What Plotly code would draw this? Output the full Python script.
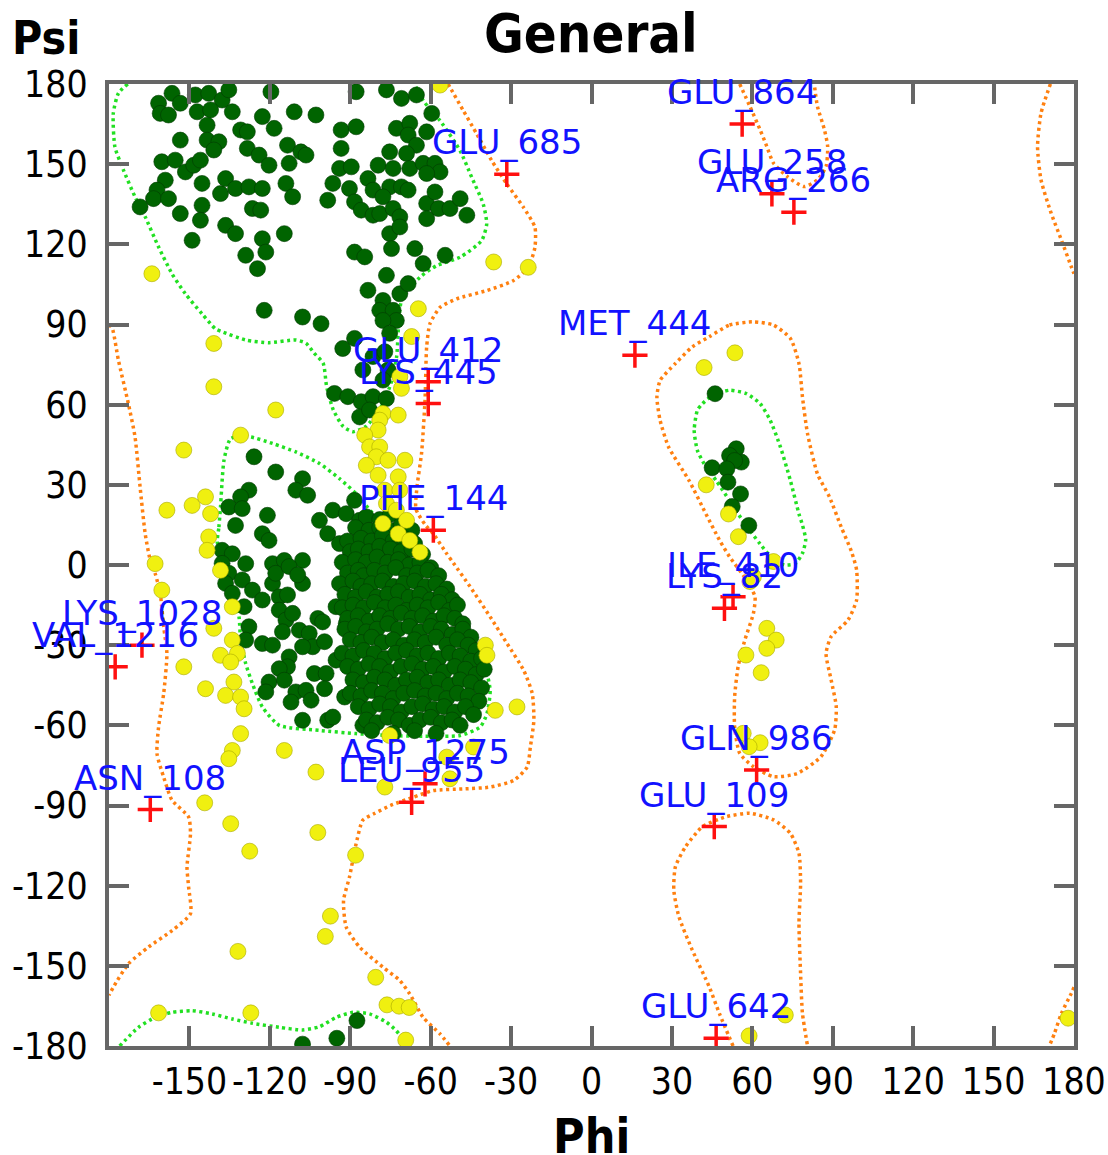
import plotly.graph_objects as go

# ---------------- data (phi, psi) ----------------
favoured = [
    # beta region
    (-156.5,176.5),(-161.5,172.8),(-160.9,169),(-157.8,168.4),(-153.4,172.8),(-147.8,175.9),(-142.8,176.5),
    (-137.8,174),(-135.3,177.8),(-147.1,169.6),(-142.1,170.3),(-134,169.6),(-119.6,177.1),(-122.8,167.8),
    (-110.9,169.6),(-102.8,168.4),(-87.8,177.1),(-76.5,177.8),(-70.9,174.6),(-65.3,175.9),(-143.4,164.6),
    (-153.4,159),(-143.4,159),(-139,158.4),(-140.9,155.3),(-130.9,162.8),(-128.4,162.1),(-118.4,163.4),
    (-128.4,155.9),(-124,153.4),(-120.3,149.6),(-113.4,157.1),(-108.4,154.6),(-106.5,153.4),(-112.8,150.3),
    (-160.3,150.9),(-155.3,151.5),(-151.5,147.1),(-148.4,149.6),(-145.9,151.5),(-159,144),(-162.1,140.3),
    (-163.4,137.1),(-157.8,137.1),(-168.4,134),(-153.4,131.5),(-145.3,142.8),(-145.3,134.6),(-145.9,129),
    (-138.4,139),(-136.5,144.6),(-132.8,140.9),(-127.8,141.5),(-122.8,140.9),(-126.5,133.4),(-123.4,132.8),
    (-114,142.8),(-111.5,137.8),(-136.5,127.1),(-132.8,124),(-149,121.5),(-122.8,122.1),(-121.5,117.1),
    (-114.6,124),(-129,115.9),(-124.6,110.9),(-93.4,162.8),(-87.8,164),(-93.4,155.9),(-94,148.4),(-89.6,149),
    (-96.5,142.8),(-90.3,140.9),(-98.4,136.5),(-88.4,135.9),(-83.4,144.6),(-85.9,132.8),(-81.5,140.3),
    (-81.5,130.9),(-79,131.5),(-79.6,149.6),(-75.3,154.6),(-72.8,163.4),(-67.8,165.3),(-61.5,162.1),
    (-59.6,169),(-68.4,160.9),(-65.3,157.1),(-74,148.4),(-69,154),(-67.8,148.4),(-62.8,150.3),(-58.4,150.3),
    (-56.5,147.1),(-61.5,146.5),(-75.3,141.5),(-70.9,141.5),(-68.4,140.3),(-77.8,137.8),(-74,133.4),
    (-71.5,130.3),(-61.5,135.3),(-58.4,139.6),(-57.1,133.4),(-52.8,133.4),(-49,137.1),(-46.5,130.9),
    (-61.5,129.6),(-75.3,124),(-71.5,126.5),(-74.6,118.4),(-65.9,118.4),(-54.6,115.9),(-62.8,112.8),
    (-88.4,117.1),(-84.6,115.3),(-76.5,108.4),(-83.4,102.8),(-71.5,101.5),(-68.4,105.3),(-77.8,99),
    (-79,95.3),(-74,95.3),(-72.8,91.5),(-77.8,91.5),(-122.1,95.3),(-107.8,92.8),(-100.9,90.3),
    # bridge / upper alpha
    (-92.8,81),(-88.4,84.8),(-85.3,73),(-81.5,78),(-77.1,79.8),(-75.3,86.7),(-75.9,73),(-77.8,69.2),
    (-95.9,64.2),(-90.9,63),(-85.9,61.1),(-81.5,63),(-76.5,62.3),(-86.5,55.4),(-82.8,58),
    (-125.9,40.5),(-117.8,34.8),(-107.8,32.3),(-110.3,28),(-105.9,26.1),(-127.8,28),(-130.9,25.5),
    (-135.3,21.7),(-130.3,21.1),(-120.9,18.6),(-132.8,14.8),(-122.8,11.7),(-120.3,9.2),(-137.8,5.5),
    (-134,4.2),(-129,0.5),(-119,0.5),(-114.6,1.7),(-107.8,1.7),(-101.5,16.7),(-96.5,20.5),(-91.5,19.2),
    (-98.4,11.7),(-94,8),(-86.5,16.7),(-85.3,11.7),(-86.5,4.2),(-81.5,9.2),(-75.3,4.2),(-70.3,1.7),
    (-62.8,-0.8),(-88.4,24.2),
    # left lobe of alpha region
    (-137.8,0.6),(-135.3,-3.1),(-136.5,-6.9),(-134,-10.6),(-130.3,-5.6),(-129.6,-15.6),(-126.5,-9.4),
    (-127.8,-23.1),(-129,-28.1),(-122.8,-29.4),(-119,-30),(-122.8,-13.1),(-119,-6.9),(-116.5,-11.9),
    (-113.4,-11.2),(-117.8,-3.1),(-112.8,-0.6),(-107.8,-6.9),(-109.6,-3.7),(-116.5,-16.9),(-114,-20.6),
    (-111.5,-18.1),(-115.3,-25),(-109,-24.4),(-105.3,-25.6),(-104,-30.6),(-99.6,-28.7),(-107.8,-30.6),
    (-112.8,-34.4),(-113.4,-38.1),(-116.5,-38.8),(-120.3,-43.8),(-121.5,-47.5),(-114.6,-43.1),
    (-110.3,-47.5),(-106.5,-46.9),(-103.4,-40.6),(-99,-40.6),(-95.3,-35.6),(-99.6,-46.3),(-112.1,-51.3),
    (-104.6,-50.6),(-107.8,-58.1),(-98.4,-58.1),(-96.5,-56.9),(-102.1,-20),(-100.3,-21.3),(-95.3,-15.6),
    (-92.1,-6.9),(-91.5,-21.9),(-92.1,-49.4),(-85.3,-60),
    # dense alpha core
    (-84,18),(-79,17),(-75,19),
    (-88,14),(-83,13),(-79,14),(-75,13),(-71,15),(-67,13),
    (-91,9),(-86,10),(-82,9),(-78,11),(-74,9),(-70,10),(-66,8),
    (-90,5),(-87,6),(-83,5),(-79,7),(-75,6),(-71,5),(-67,6),(-63,4),
    (-93,1),(-88,2),(-84,1),(-80,3),(-76,1),(-72,2),(-68,0),(-64,1),(-60,-1),
    (-91,-3),(-87,-2),(-85,-4),(-81,-2),(-77,-3),(-73,-1),(-69,-4),(-65,-3),(-61,-2),(-57,-4),
    (-94,-7),(-89,-6),(-86,-8),(-82,-7),(-78,-6),(-74,-8),(-70,-7),(-66,-6),(-62,-8),(-58,-7),(-54,-9),
    (-92,-11),(-88,-12),(-84,-10),(-80,-12),(-76,-11),(-72,-10),(-68,-12),(-64,-11),(-60,-13),(-56,-11),(-52,-13),
    (-93,-16),(-89,-15),(-85,-16),(-81,-14),(-77,-16),(-73,-15),(-69,-17),(-65,-15),(-61,-16),(-57,-14),(-53,-17),(-50,-15),
    (-91,-20),(-87,-19),(-83,-21),(-79,-19),(-75,-20),(-71,-18),(-67,-20),(-63,-19),(-59,-21),(-55,-19),(-51,-20),(-48,-22),
    (-92,-24),(-88,-23),(-84,-25),(-80,-24),(-76,-22),(-72,-24),(-68,-23),(-64,-25),(-60,-23),(-56,-24),(-52,-26),(-48,-24),(-45,-27),
    (-90,-28),(-86,-29),(-82,-27),(-78,-29),(-74,-28),(-70,-30),(-66,-28),(-62,-29),(-58,-27),(-54,-30),(-50,-28),(-46,-30),(-43,-32),
    (-93,-33),(-89,-34),(-85,-32),(-81,-33),(-77,-35),(-73,-33),(-69,-32),(-65,-34),(-61,-33),(-57,-35),(-53,-33),(-49,-34),(-45,-36),(-41,-35),
    (-91,-38),(-87,-39),(-83,-37),(-79,-38),(-75,-40),(-71,-38),(-67,-37),(-63,-39),(-59,-38),(-55,-40),(-51,-38),(-47,-39),(-43,-41),(-40,-39),
    (-89,-43),(-85,-44),(-81,-42),(-77,-43),(-73,-45),(-69,-43),(-65,-42),(-61,-44),(-57,-43),(-53,-45),(-49,-43),(-45,-44),(-41,-46),
    (-90,-48),(-86,-49),(-82,-47),(-78,-48),(-74,-50),(-70,-48),(-66,-47),(-62,-49),(-58,-48),(-54,-50),(-50,-48),(-46,-49),(-42,-51),
    (-87,-53),(-83,-54),(-79,-52),(-75,-53),(-71,-55),(-67,-53),(-63,-52),(-59,-54),(-55,-53),(-51,-55),(-47,-53),(-44,-56),
    (-84,-58),(-80,-59),(-76,-57),(-72,-58),(-68,-60),(-64,-58),(-60,-57),(-56,-59),(-52,-58),(-49,-60),
    (-82,-62),(-74,-63),(-66,-62),(-58,-63),
    # left-handed region
    (46.1,64.1),(54,43.5),(51.5,41),(55.9,38.5),(53.4,39.1),(45,36.4),(50.5,36),(50.9,31),(55.6,26.6),
    (52.5,21.9),(58.7,14.8),
    # bottom edge
    (-87.5,-170.5),(-95,-177.1),(-107.8,-179.3),
]

allowed = [
    (-164,109),(-36.5,113.4),(-64.6,95.9),(-56.5,179.6),(-23.6,111.4),
    (-140.9,82.9),(-140.9,66.7),(-117.8,58),(-152.1,43),(-130.9,48.6),(-67.1,85.5),(-71.5,70.5),
    (-70.9,66.1),(-77.8,56.7),(-72.1,56.1),(-79,54.2),(-79.6,50.5),(-84.6,48.6),(-82.8,44.2),(-79,44.2),
    (-80.3,40.5),(-75.9,39.2),(-84,37.3),(-69.6,39.2),(-79.6,33.6),(-72.1,33),(-77.1,28),(-71.5,28),
    (-76.5,23),(-72.8,20.5),(-77.8,15.5),(-69,16.7),(-72.1,11.7),(-67.8,9.2),(-64,4.8),(-158.4,20.5),
    (-149,22.3),(-144,25.5),(-142.1,19.2),(-142.8,10.5),(-143.4,5.5),(-162.8,0.5),(-138.4,-2),
    (-160.3,-9.4),(-134,-15.6),(-140.9,-23.7),(-134,-28.1),(-132.1,-33.1),(-138.4,-33.8),(-134.6,-36.3),
    (-152.1,-38.1),(-144,-46.3),(-133.4,-43.8),(-136.5,-48.8),(-130.9,-49.4),(-129.6,-53.8),(-130.9,-63.1),
    (-134,-69.4),(-135.3,-72.5),(-114.6,-69.4),(-102.8,-77.5),(-75.3,-63.8),(-77.1,-83.1),(-54,-71.9),
    (-52.8,-80),(-44,-68.1),(-35.9,-54.4),(-27.8,-53.1),(-39.6,-30),(-39,-33.8),
    (-144.3,-89),(-134.6,-96.8),(-127.5,-107.1),(-102.1,-100.1),(-88,-108.6),(-97.4,-131.4),(-99.3,-139),
    (-131.9,-144.6),(-80.5,-154.3),(-76.3,-164.6),(-71.8,-165.1),(-68,-165.6),(-161.5,-167.6),
    (-127.1,-167.6),(-69.3,-177.8),
    (53.5,79.4),(42,73.9),(42.8,30),(51.1,19.1),(54.8,10.6),(67.9,1.3),(60.4,-4.4),(59.1,-6.2),
    (65.4,-23.7),(68.9,-28.1),(65.4,-31.2),(57.6,-33.7),(63.3,-40.3),(56.6,-63),(62.9,-66.5),(58.8,-68),
    (72.3,-168.4),(58.8,-176.2),(177.8,-169.6),
]

outlier_labels = ["GLU_864", "GLU_258", "ARG_266", "MET_444", "GLU_685", "GLU_412", "LYS_445",
                  "PHE_144", "ILE_410", "LYS_82", "GLN_986", "GLU_109", "GLU_642", "LYS_1028",
                  "VAL_1216", "ASN_108", "ASP_1275", "LEU_955"]
outlier_phi = [56.2, 67.3, 75.5, 16.2, -31.6, -60.9, -60.9, -59.0, 52.8, 49.6, 61.6, 45.8, 46.5,
               -167.7, -177.7, -164.6, -62.1, -67.1]
outlier_psi = [165.0, 138.9, 132.0, 78.5, 146.2, 68.6, 60.4, 13.0, -11.9, -16.2, -76.7, -97.9, -177.1,
               -30.0, -38.1, -91.5, -81.9, -88.8]

# favoured-region contours (green)
fav_contour_beta_top = [(-173,180),(-176.5,176.5),(-178.4,169),(-177.8,156.5),(-174.6,147.8),(-170.3,137.8),
    (-166.5,130.3),(-161.5,119),(-156.5,109),(-151.5,101.5),(-145.3,94),(-140.3,88.4),(-137.8,87.3),
    (-129,84.2),(-120.3,83.2),(-110.3,84.2),(-106.5,83),(-103.4,79.2),(-100.1,75.5),(-98.8,66.7),
    (-96.3,58),(-92.6,51.8),(-88.9,49.9),(-84,52),(-78,60),(-74.5,69),(-72.7,77.9),(-70.8,99.2),
    (-64,107.7),(-57.8,112),(-49,115.2),(-41,121.4),(-39.1,127.6),(-40.4,135.1),(-44.7,145.1),
    (-49,155),(-56.5,166.3),(-62.8,173.8),(-66,180)]
fav_contour_beta_bottom = [(-176,-180),(-169,-173),(-162.8,-169.3),(-156.5,-167.4),(-149,-166.8),
    (-141.5,-168),(-134,-169.9),(-126.5,-171.5),(-116.5,-173),(-107.8,-174),(-101.5,-172.8),
    (-95.3,-169.3),(-89,-167.4),(-82.8,-168),(-76.5,-171.1),(-72.8,-174.3),(-69.6,-178.6),(-69,-180)]
fav_contour_alpha = [(-139.6,8.6),(-139,14.2),(-138.4,21.7),(-137.1,39.2),(-134.6,47.3),(-127.8,48),
    (-119,45.5),(-110.3,42.3),(-101.5,38),(-94,32.3),(-87.8,26.7),(-81.5,19.2),(-72,10),(-64,1.9),
    (-60.3,-3.1),(-51.5,-15.6),(-45.3,-25.6),(-40.3,-35.6),(-37.8,-46.9),(-39,-55.6),(-41.5,-60.6),
    (-49,-63.8),(-62.8,-64.1),(-75.3,-63.8),(-87.8,-63.1),(-101.5,-61.9),(-116.5,-60),(-122.8,-53.1),
    (-126.5,-44.4),(-129,-36.9),(-130.9,-28.1),(-131.5,-19.4),(-134,-10),(-137,0),(-139.6,8.6)]
fav_contour_left = [(39.5,57.9),(38.3,50.4),(39.5,42.9),(42,37.9),(46.5,31.6),(51.5,24.1),(57.2,15.4),
    (62.9,7.9),(67,3),(72,0),(76,0.5),(78.7,4.4),(79.9,9.4),(78.7,15),(77.4,19.1),(74.2,31.6),(70.5,44.1),
    (66.7,54.1),(62.9,60.4),(57.8,64.1),(51.5,65.4),(45.2,63.5),(41.4,60.4),(39.5,57.9)]

# allowed-region contours (orange)
alw_contour_left = [(-180,89.5),(-179,89.2),(-176.5,76.7),(-172.8,60.5),(-170.3,48),(-168.4,29.2),
    (-166.5,11.7),(-164.6,1.7),(-162.8,-3.1),(-160.9,-10.6),(-159.6,-23.1),(-158.4,-33.1),(-159.6,-48.1),
    (-161.5,-60.6),(-162.1,-70.6),(-159.6,-79.4),(-156.5,-88),(-150.3,-94.3),(-149.6,-100.5),(-150.9,-113),
    (-150.3,-120.5),(-149.6,-130.5),(-156.5,-136.8),(-165.3,-143),(-172.8,-149.3),(-178.4,-158),(-180,-161)]
alw_contour_main = [(-53.5,180),(-52.8,178.8),(-47.8,170),(-42.8,161.3),(-37.2,151.3),(-31.6,142.6),
    (-25.4,133.9),(-21.1,126.4),(-21.1,118.9),(-23.6,111.4),(-29.2,106.4),(-39.1,102.7),(-50.3,99.6),
    (-56.5,96.4),(-60.3,90.2),(-61.5,81.5),(-62.1,61.8),(-63.4,41.8),(-65,30),(-65.5,21),(-62,15),
    (-59,11.7),(-54,4.2),(-51.5,0.7),(-45.3,-8.1),(-37.8,-19.4),(-31.5,-29.4),(-25.3,-39.4),(-22.1,-48.1),
    (-21.5,-58.1),(-22.8,-68.1),(-24,-75.6),(-29,-80.6),(-37.8,-83.1),(-47.8,-83.8),(-59,-84.4),
    (-66.5,-86.9),(-75,-90),(-81,-93),(-85.3,-95.5),(-87.8,-104.3),(-90.3,-116.8),(-92.5,-125.5),
    (-91.5,-135.5),(-86.5,-143),(-77.8,-150.5),(-71.5,-155.5),(-67.8,-160.5),(-62.8,-169.3),(-56.5,-175.5),
    (-52.8,-180)]
alw_contour_right_top = [(171.2,180),(167.7,169.1),(166.4,156.6),(167.7,144.1),(171.5,131.6),
    (175.3,121.6),(179,111.6),(180,109)]
alw_contour_right_bottom = [(180,-158),(179,-160.3),(175.3,-167.8),(172.7,-175.3),(170.8,-180)]
alw_contour_upper_top = [(55.3,180),(59.1,171.6),(62.9,162.9),(65.4,156.6),(67.9,150.4),(73,145.4),
    (79.3,141.6),(84.3,144.1),(87.5,149.1),(88.1,156.6),(86.9,162.9),(84.3,171.6),(83.1,180)]
alw_contour_upper_bottom = [(52.8,-180),(47.7,-167.8),(43.9,-157.8),(37.6,-144.1),(32.6,-131.6),
    (30.7,-121.6),(31.3,-112.9),(35.1,-105.4),(41.4,-97.9),(50.3,-94.2),(59.1,-92.9),(67.9,-95.4),
    (74.2,-100.4),(77.4,-107.9),(78,-119.1),(77.4,-134.1),(78,-152.8),(78.7,-167.8),(80.6,-180)]
alw_contour_lefthanded = [(43.9,85.4),(51.5,89.8),(60.4,91),(67.9,89.8),(74.2,84.8),(77.4,75.4),
    (78.7,62.9),(80.6,49.1),(84.3,34.1),(88.8,25.4),(93.2,14.1),(97,5),(98.9,-1.9),(98.9,-13.1),
    (95.7,-20.6),(89.4,-26.8),(87.5,-33.1),(89.4,-43),(91.3,-53),(90.7,-61.7),(85.6,-71.7),(76.8,-78),
    (67.9,-79.2),(60.4,-75.5),(55.3,-70.5),(53.4,-60.5),(53.4,-49.3),(54.7,-38),(57.2,-28.1),
    (60.4,-18.1),(61,-11.9),(57.8,-5.6),(51.5,3.1),(47.7,9.4),(42.7,19.1),(36.4,31.6),(28.8,44.1),
    (25.6,54.1),(24.4,62.9),(25.6,69.1),(31.3,75.4),(37.6,81.6),(43.9,85.4)]

x_ticks = [-150, -120, -90, -60, -30, 0, 30, 60, 90, 120, 150, 180]
y_ticks = [-180, -150, -120, -90, -60, -30, 0, 30, 60, 90, 120, 150, 180]

# ---------------- figure ----------------
GREEN_LINE = "#22e022"
ORANGE_LINE = "#ff8010"
AX = "#666666"
NARROW = "DejaVu Sans Condensed, Liberation Sans Narrow, Liberation Sans, sans-serif"

fig = go.Figure()


def add_contour(pts, color):
    fig.add_trace(go.Scatter(
        x=[p[0] for p in pts], y=[p[1] for p in pts], mode="lines",
        line=dict(color=color, width=3.5, dash="3px,3.5px", shape="spline", smoothing=0.6),
        hoverinfo="skip", showlegend=False, cliponaxis=True))


for c in [alw_contour_left, alw_contour_main, alw_contour_right_top, alw_contour_right_bottom,
          alw_contour_upper_top, alw_contour_upper_bottom, alw_contour_lefthanded]:
    add_contour(c, ORANGE_LINE)
for c in [fav_contour_beta_top, fav_contour_beta_bottom, fav_contour_alpha, fav_contour_left]:
    add_contour(c, GREEN_LINE)

fig.add_trace(go.Scatter(
    x=[p[0] for p in favoured], y=[p[1] for p in favoured], mode="markers",
    marker=dict(size=16, color="#006400", line=dict(color="#003a00", width=0.6)),
    showlegend=False))
fig.add_trace(go.Scatter(
    x=[p[0] for p in allowed], y=[p[1] for p in allowed], mode="markers",
    marker=dict(size=16, color="#f0f010", line=dict(color="#a8a800", width=0.6)),
    showlegend=False))
fig.add_trace(go.Scatter(
    x=outlier_phi, y=outlier_psi, mode="markers",
    marker=dict(symbol="cross-thin", size=18, line=dict(color="#ff1010", width=3.5)),
    showlegend=False))

for lab, px, py in zip(outlier_labels, outlier_phi, outlier_psi):
    fig.add_annotation(x=px, y=py, text=lab, showarrow=False, yshift=32,
                       xanchor="center", yanchor="middle",
                       font=dict(family="DejaVu Sans", size=34, color="#1212ff"))

fig.add_annotation(xref="paper", yref="paper", x=0.4995, y=1.052, text="<b>General</b>",
                   showarrow=False, xanchor="center", yanchor="middle",
                   font=dict(family=NARROW, size=54, color="black"))
fig.add_annotation(xref="paper", yref="paper", x=-0.0653, y=1.048, text="<b>Psi</b>",
                   showarrow=False, xanchor="center", yanchor="middle",
                   font=dict(family=NARROW, size=46, color="black"))
fig.add_annotation(xref="paper", yref="paper", x=0.5005, y=-0.0935, text="<b>Phi</b>",
                   showarrow=False, xanchor="center", yanchor="middle",
                   font=dict(family=NARROW, size=48, color="black"))

axis_common = dict(
    range=[-180, 180], showgrid=False, zeroline=False, showline=True, linecolor=AX, linewidth=4,
    mirror="allticks", ticks="inside", ticklen=20, tickwidth=4, tickcolor=AX, automargin=False,
    tickfont=dict(family=NARROW, size=37, color="black"), fixedrange=True,
)
fig.update_xaxes(**axis_common, tickmode="array", tickvals=x_ticks, tickangle=0,
                 ticktext=[str(v) for v in x_ticks], ticklabelstandoff=0)
fig.update_yaxes(**axis_common, tickmode="array", tickvals=y_ticks, tickangle=0,
                 ticktext=[str(v) for v in y_ticks], ticklabelstandoff=10)

fig.update_layout(
    width=1108, height=1155, autosize=False,
    margin=dict(l=109, r=34, t=84, b=109, pad=0),
    paper_bgcolor="white", plot_bgcolor="white",
)

fig.write_html("out.html", config={"displayModeBar": False})
